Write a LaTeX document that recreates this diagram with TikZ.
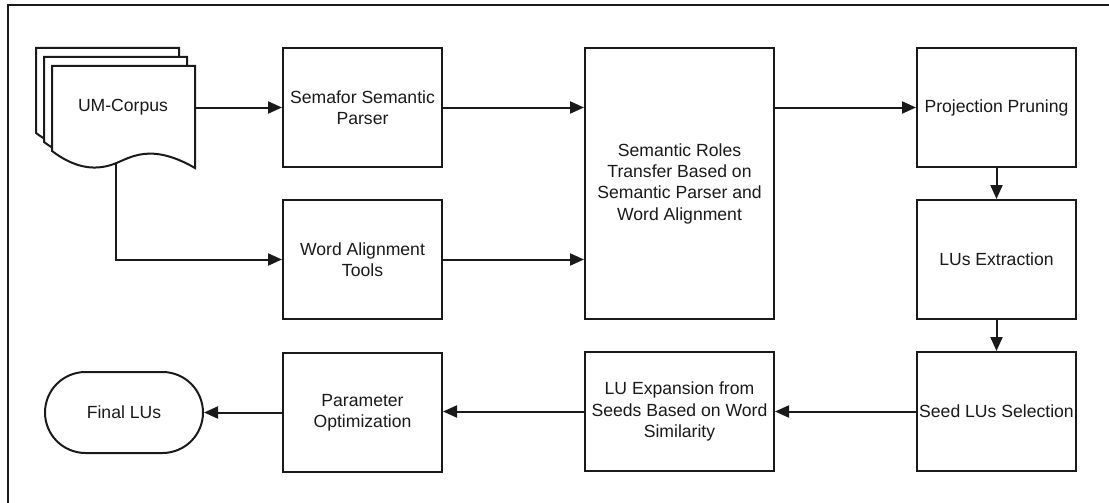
\documentclass[tikz,border=0pt]{standalone}
\usepackage{fontspec}
\setmainfont{Liberation Sans}
\usetikzlibrary{arrows.meta,shapes.misc}
\definecolor{ink}{HTML}{1A1A1A}
\tikzset{
  box/.style={draw=ink, line width=2pt, fill=white, inner sep=0pt, align=center,
    text=ink, font=\fontsize{17.6}{21.3}\selectfont},
  sq/.style={box, minimum width=159pt, minimum height=119pt},
  wide/.style={box, minimum width=189pt, minimum height=119pt},
  flow/.style={draw=ink, line width=2pt, -{Triangle[length=14pt,width=12pt]}},
  sheet/.style={draw=ink, line width=2pt, fill=white, line join=miter},
}
\begin{document}
\begin{tikzpicture}[x=1pt,y=-1pt]
\clip (0,0) rectangle (1109,503);
% outer frame
\draw[ink, line width=2pt] (8,5) rectangle (1130,520);

% stack of documents
\foreach \d in {16,8,0}{
  \begin{scope}[shift={(-\d,{-1.125*\d})}]
    \draw[sheet] (52,66) -- (195,66) -- (195,168)
      .. controls (150,142) and (130,158) .. (114,164)
      .. controls (92,172) and (72,166) .. (52,151) -- cycle;
  \end{scope}
}
\node[text=ink, font=\fontsize{17.6}{21.3}\selectfont] (corpus) at (123,107) {UM-Corpus};
\coordinate (docR) at (195,107.5);
\coordinate (docB) at (116,164);

% process boxes
\node[sq] (semafor) at (362.5,107.5) {Semafor Semantic\\Parser};
\node[sq] (wat) at (362.5,259.5) {Word Alignment\\Tools};
\node[box, minimum width=189pt, minimum height=271pt] (semrole) at (679.5,183.5)
  {Semantic Roles\\Transfer Based on\\Semantic Parser and\\Word Alignment};
\node[sq] (proj) at (996.5,107.5) {Projection Pruning};
\node[sq] (luext) at (996.5,259.5) {LUs Extraction};
\node[sq] (seed) at (996.5,411.5) {Seed LUs Selection};
\node[wide] (lux) at (679.5,411.5) {LU Expansion from\\Seeds Based on Word\\Similarity};
\node[sq] (param) at (362.5,412.5) {Parameter\\Optimization};
\node[box, rounded rectangle, minimum width=158pt, minimum height=81pt] (final) at (124,412.5) {Final LUs};

% connectors
\draw[flow] (docR) -- (semafor.west |- docR);
\draw[flow] (docB) |- (wat.west);
\draw[flow] (semafor.east) -- (semafor.east -| semrole.west);
\draw[flow] (wat.east) -- (wat.east -| semrole.west);
\draw[flow] (semrole.east |- proj.west) -- (proj.west);
\draw[flow] (proj.south) -- (luext.north);
\draw[flow] (luext.south) -- (seed.north);
\draw[flow] (seed.west) -- (lux.east);
\draw[flow] (lux.west) -- (lux.west -| param.east);
\draw[flow] (param.west) -- (param.west -| final.east);
\end{tikzpicture}
\end{document}
